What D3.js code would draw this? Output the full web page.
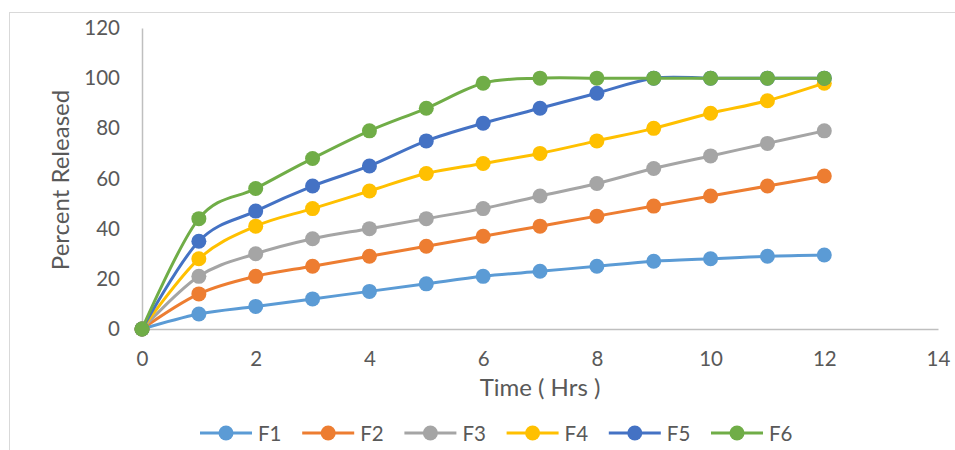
<!DOCTYPE html>
<html><head><meta charset="utf-8">
<script src="https://cdn.jsdelivr.net/npm/d3@7"></script>
<style>body{margin:0;background:#fff;} text{font-family:Lato,"Open Sans",sans-serif;fill:#595959;}</style>
</head><body><svg id="c" width="955" height="450"></svg>
<script>
const hours = [0,1,2,3,4,5,6,7,8,9,10,11,12];
const seriesNames = ["F1","F2","F3","F4","F5","F6"];
const F1 = [0,6,9,12,15,18,21,23,25,27,28,29,29.5];
const F2 = [0,14,21,25,29,33,37,41,45,49,53,57,61];
const F3 = [0,21,30,36,40,44,48,53,58,64,69,74,79];
const F4 = [0,28,41,48,55,62,66,70,75,80,86,91,98];
const F5 = [0,35,47,57,65,75,82,88,94,100,100,100,100];
const F6 = [0,44,56,68,79,88,98,100,100,100,100,100,100];
const xTicks = [0,2,4,6,8,10,12,14];
const yTicks = [0,20,40,60,80,100,120];
const colors = ["#5B9BD5","#ED7D31","#A5A5A5","#FFC000","#4472C4","#70AD47"];
const allSeries = [F1,F2,F3,F4,F5,F6];

const svg = d3.select("#c");
svg.append("rect").attr("x",9.5).attr("y",12.5).attr("width",1000).attr("height",1000)
  .attr("fill","none").attr("stroke","#D9D9D9").attr("stroke-width",1);

const x = d3.scaleLinear().domain([0,14]).range([142,938]);
const y = d3.scaleLinear().domain([0,120]).range([329,28]);

const xAxis = svg.append("g").attr("transform","translate(0,329)")
  .call(d3.axisBottom(x).tickValues(xTicks).tickSize(0).tickPadding(22));
const yAxis = svg.append("g").attr("transform","translate(142,0)")
  .call(d3.axisLeft(y).tickValues(yTicks).tickSize(0).tickPadding(22));
[xAxis,yAxis].forEach(a=>{
  a.select(".domain").attr("stroke","#BFBFBF").attr("stroke-width",1.5);
  a.selectAll("text").style("font-size","20.5px").attr("fill","#595959").style("font-family","Lato");
});

svg.append("text").attr("x",540).attr("y",396).attr("text-anchor","middle")
  .style("font-size","24px").text("Time ( Hrs )");
svg.append("text").attr("transform","translate(69,180) rotate(-90)").attr("text-anchor","middle")
  .style("font-size","24px").text("Percent Released");

const line = d3.line().x((d,i)=>x(hours[i])).y(d=>y(d)).curve(d3.curveCardinal.tension(0));
allSeries.forEach((s,k)=>{
  const g = svg.append("g");
  g.append("path").datum(s).attr("d",line).attr("fill","none")
    .attr("stroke",colors[k]).attr("stroke-width",3);
  g.selectAll("circle").data(s).join("circle")
    .attr("cx",(d,i)=>x(hours[i])).attr("cy",d=>y(d)).attr("r",7.5)
    .attr("fill",colors[k]);
});

const lg = svg.append("g");
seriesNames.forEach((n,k)=>{
  const cx = 226 + k*102.2;
  lg.append("line").attr("x1",cx-26).attr("x2",cx+26).attr("y1",433).attr("y2",433)
    .attr("stroke",colors[k]).attr("stroke-width",3);
  lg.append("circle").attr("cx",cx).attr("cy",433).attr("r",7.5).attr("fill",colors[k]);
  lg.append("text").attr("x",cx+32).attr("y",441).style("font-size","20.5px").text(n);
});
</script></body></html>
